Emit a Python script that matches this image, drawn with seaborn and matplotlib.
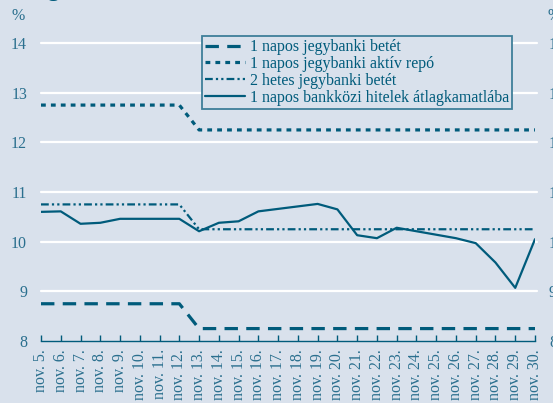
import matplotlib
matplotlib.use("Agg")
import matplotlib.pyplot as plt
import seaborn as sns
import numpy as np
import pandas as pd
from matplotlib.lines import Line2D

dates = ["nov. 5.", "nov. 6.", "nov. 7.", "nov. 8.", "nov. 9.", "nov. 10.", "nov. 11.",
         "nov. 12.", "nov. 13.", "nov. 14.", "nov. 15.", "nov. 16.", "nov. 17.", "nov. 18.",
         "nov. 19.", "nov. 20.", "nov. 21.", "nov. 22.", "nov. 23.", "nov. 24.", "nov. 25.",
         "nov. 26.", "nov. 27.", "nov. 28.", "nov. 29.", "nov. 30."]

betet_1napos = [8.75] * 8 + [8.25] * 18
repo_1napos = [12.75] * 8 + [12.25] * 18
betet_2hetes = [10.75] * 8 + [10.25] * 18
bankkozi = [10.60, 10.61, 10.36, 10.38, 10.46, 10.46, 10.46, 10.46, 10.21, 10.38,
            10.41, 10.61, 10.66, 10.71, 10.76, 10.65, 10.13, 10.07, 10.28, 10.21,
            10.14, 10.07, 9.97, 9.58, 9.07, 10.05]

series_names = ["1 napos jegybanki betét", "1 napos jegybanki aktív repó",
                "2 hetes jegybanki betét", "1 napos bankközi hitelek átlagkamatlába"]
yticks = [8, 9, 10, 11, 12, 13, 14]

BG = "#d9e1ec"
LINE = "#005b7b"
TXT = "#2a6f8e"
FS = 11.5

sns.set_theme(style="white")
plt.rcParams["font.family"] = ["Liberation Serif", "DejaVu Serif"]

fig = plt.figure(figsize=(5.53, 4.03), dpi=100, facecolor=BG)
ax = fig.add_axes([41 / 553, 1 - 341 / 403, (535 - 41) / 553, (341 - 43) / 403])
ax.set_facecolor(BG)

x = np.arange(len(dates))
df = pd.DataFrame({"x": x, "b1": betet_1napos, "r1": repo_1napos,
                   "b2": betet_2hetes, "bk": bankkozi})

styles = [
    ("b1", dict(lw=2.3, dashes=(4.2, 2.6))),
    ("r1", dict(lw=2.3, dashes=(1.5, 1.6))),
    ("b2", dict(lw=1.6, dashes=(3.5, 1.4, 1.0, 1.4, 1.0, 1.4))),
    ("bk", dict(lw=1.6, dashes=None)),
]
handles = []
for (col, st), name in zip(styles, series_names):
    kw = dict(color=LINE, linewidth=st["lw"])
    if st["dashes"] is not None:
        kw["dashes"] = st["dashes"]
    sns.lineplot(data=df, x="x", y=col, ax=ax, legend=False, **kw)
    handles.append(Line2D([], [], label=name, **kw))

ax.set_xlim(0, len(dates) - 1)
ax.set_ylim(8, 14)
ax.set_yticks(yticks)
ax.set_yticklabels([str(t) for t in yticks])
for t in yticks[1:]:
    ax.axhline(t, color="white", lw=1.6, zorder=0, xmax=1.004, clip_on=False)

for s in ["top", "right", "left"]:
    ax.spines[s].set_visible(False)
ax.spines["bottom"].set_color(LINE)
ax.spines["bottom"].set_linewidth(1.0)

ax.set_xticks(x)
ax.set_xticklabels(dates, rotation=90, va="top", ha="center")
ax.tick_params(axis="x", direction="in", length=4, width=1.0, color=LINE,
               labelcolor=TXT, labelsize=FS, pad=6, bottom=True)
ax.tick_params(axis="y", length=0, labelcolor=TXT, labelsize=FS, pad=10,
               labelleft=True, labelright=True)
ax.set_xlabel("")
ax.set_ylabel("")

fig.text(18 / 553, 1 - 16 / 403, "%", color=TXT, fontsize=FS, ha="center", va="center")
fig.text(547 / 553, 1 - 16 / 403, "%", color=TXT, fontsize=FS, ha="left", va="center")
fig.text(47 / 553, 1 + 4 / 403, "g", color=LINE, fontsize=16, fontweight="bold",
         ha="left", va="baseline")

leg = fig.legend(handles=handles, loc="upper left",
                 bbox_to_anchor=(202 / 553, 1 - 36 / 403), bbox_transform=fig.transFigure,
                 borderaxespad=0, fontsize=FS, frameon=True, fancybox=False,
                 handlelength=2.5, handletextpad=0.3, labelspacing=0.05,
                 borderpad=0.2)
leg.get_frame().set_facecolor(BG)
leg.get_frame().set_edgecolor("#3f7f99")
leg.get_frame().set_linewidth(1.3)
leg.get_frame().set_alpha(1)
for t in leg.get_texts():
    t.set_color(LINE)

fig.savefig("out.png", dpi=100, facecolor=BG)
